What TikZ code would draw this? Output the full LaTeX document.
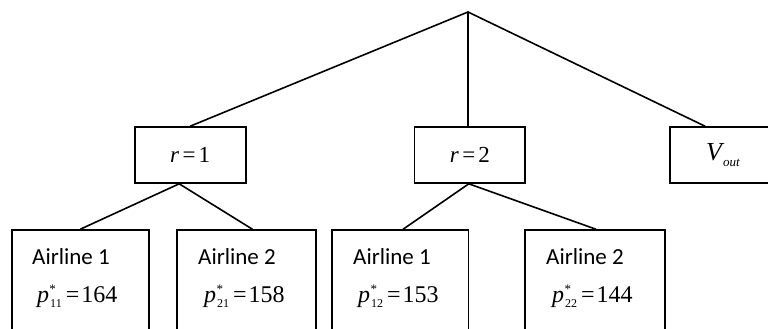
\documentclass[tikz,border=0pt]{standalone}
\usepackage{fontspec}
\setmainfont{Liberation Serif}
\newfontfamily\calfont{Carlito}
\usetikzlibrary{calc}
\tikzset{
  box/.style={draw, line width=1.6pt, rectangle, inner sep=0pt},
  edge/.style={line width=1.6pt, line cap=round},
  lbl/.style={inner sep=0pt, anchor=base west, font=\calfont\fontsize{23}{23}\selectfont},
  eq/.style={inner sep=0pt, anchor=base west, font=\fontsize{24}{24}\selectfont},
  mid/.style={font=\fontsize{23}{23}\selectfont},
}
\newcommand\pstar[2]{\textit{p}\kern1pt\raisebox{-5pt}{\fontsize{12}{12}\selectfont #1}\llap{\raisebox{9pt}{\fontsize{13}{13}\selectfont *}\kern6pt}\kern4pt=\kern2pt#2}
\begin{document}
\begin{tikzpicture}[x=1pt,y=1pt]
\useasboundingbox (0,0) rectangle (768,-329);
\clip (0,0) rectangle (768,-329);
\coordinate (top) at (468,-12);
\node[box, mid, minimum width=111pt, minimum height=56pt] (r1) at (190.2,-155) {\textit{r}\kern3.5pt=\kern3pt1};
\node[box, mid, minimum width=110.3pt, minimum height=56pt] (r2) at (469.8,-155) {\textit{r}\kern3.5pt=\kern3pt2};
\node[box, mid, minimum width=106pt, minimum height=56pt] (vo) at (723,-155) {\fontsize{26}{26}\selectfont\textit{V}\kern-1.5pt\raisebox{-6pt}{\fontsize{13}{13}\selectfont\textit{out}}};
\node[box, minimum width=136.7pt, minimum height=130pt] (b1) at (80.35,-295) {};
\node[box, minimum width=139.3pt, minimum height=130pt] (b2) at (246.35,-295) {};
\node[box, minimum width=136.3pt, minimum height=130pt] (b3) at (400.15,-295) {};
\node[box, minimum width=140.3pt, minimum height=130pt] (b4) at (594.85,-295) {};
\node[lbl] (l1) at (32,-264) {Airline 1};
\node[lbl] (l2) at (198,-264) {Airline 2};
\node[lbl] (l3) at (353,-264) {Airline 1};
\node[lbl] (l4) at (546,-264) {Airline 2};
\node[eq] (e1) at (37,-302) {\pstar{11}{164}};
\node[eq] (e2) at (204,-302) {\pstar{21}{158}};
\node[eq] (e3) at (358,-302) {\pstar{12}{153}};
\node[eq] (e4) at (552,-302) {\pstar{22}{144}};
\draw[edge] (top) -- (r1.north);
\draw[edge] (top) -- (top |- r2.north);
\draw[edge] (top) -- ($(vo.north)+(-18,0)$);
\draw[edge] ($(r1.south)+(-11,0)$) -- (b1.north);
\draw[edge] ($(r1.south)+(-11,0)$) -- ($(b2.north)+(6,0)$);
\draw[edge] ($(r2.south)+(-1,0)$) -- ($(b3.north)+(3,0)$);
\draw[edge] ($(r2.south)+(-1,0)$) -- ($(b4.north)+(1,0)$);
\end{tikzpicture}
\end{document}
